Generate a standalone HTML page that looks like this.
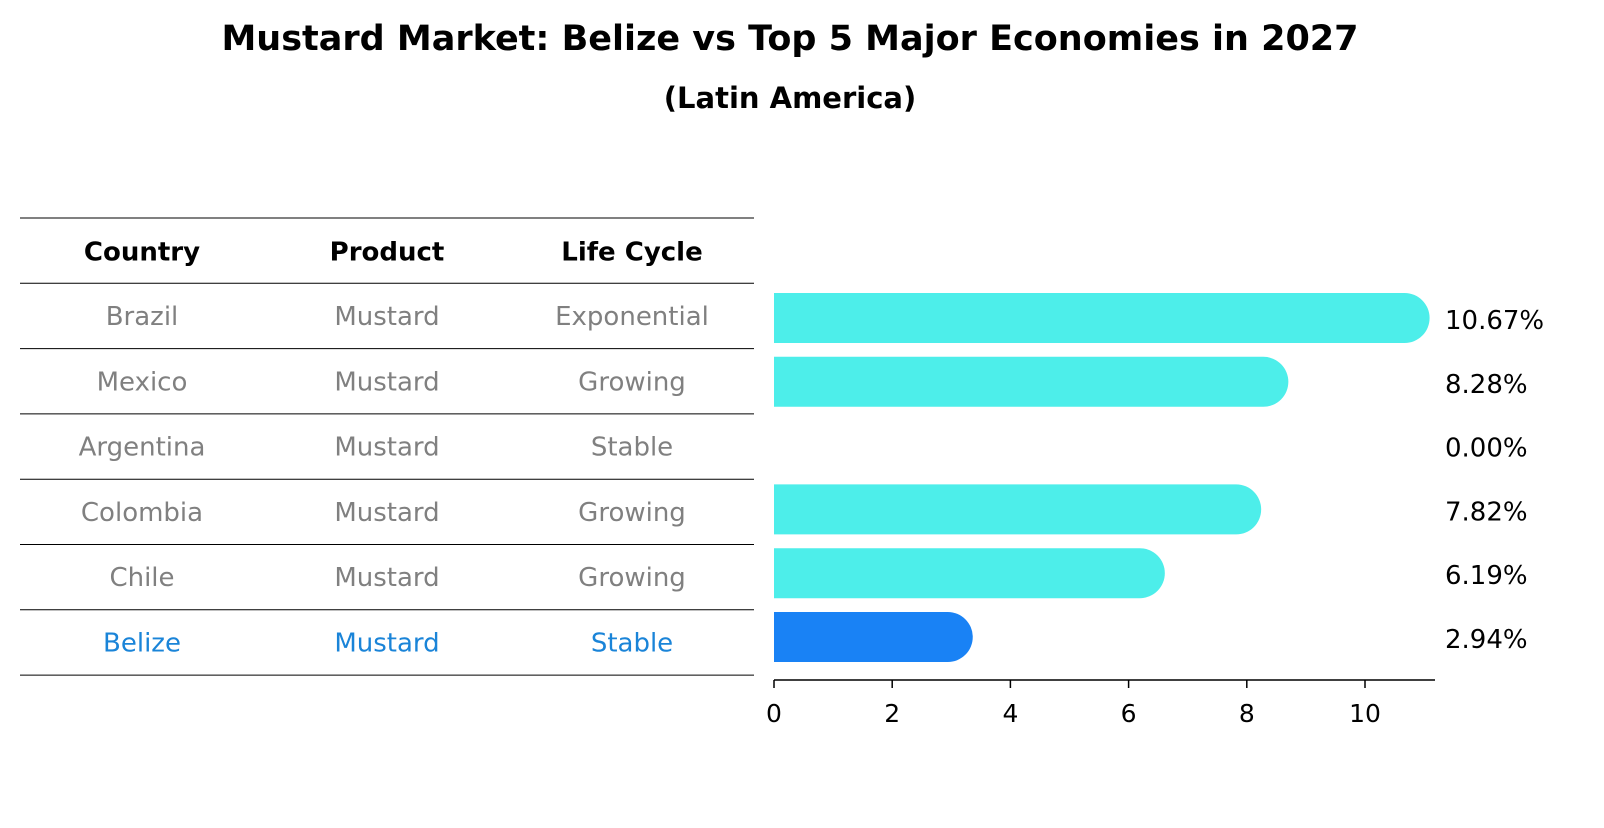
<!DOCTYPE html>
<html><head><meta charset="utf-8"><style>
body{margin:0;background:#fff;font-family:"Liberation Sans","DejaVu Sans",sans-serif;}
svg text{font-family:"DejaVu Sans","Liberation Sans",sans-serif;}
</style></head><body>
<svg id="c" width="1604" height="823" xmlns="http://www.w3.org/2000/svg">
<text x="790" y="50" text-anchor="middle" font-size="35" font-weight="bold">Mustard Market: Belize vs Top 5 Major Economies in 2027</text>
<text x="790" y="108" text-anchor="middle" font-size="29" font-weight="bold">(Latin America)</text>
<g id="table"></g>
<g id="bars"></g>
</svg>
<script>
const countries=["Brazil","Mexico","Argentina","Colombia","Chile","Belize"];
const products=["Mustard","Mustard","Mustard","Mustard","Mustard","Mustard"];
const lifecycles=["Exponential","Growing","Stable","Growing","Growing","Stable"];
const values=[10.67,8.28,0.00,7.82,6.19,2.94];
const ticks=[0,2,4,6,8,10];
const NS="http://www.w3.org/2000/svg";
function mk(tag,attrs,parent,txt){const e=document.createElementNS(NS,tag);for(const k in attrs)e.setAttribute(k,attrs[k]);if(txt!==undefined)e.textContent=txt;parent.appendChild(e);return e;}
const tbl=document.getElementById('table'),bars=document.getElementById('bars');
const rowTop=218,rowH=65.3,cols=[142,387,632];
const headers=["Country","Product","Life Cycle"];
headers.forEach((h,i)=>{const t=mk('text',{x:cols[i],y:rowTop+rowH/2+10,'text-anchor':'middle','font-size':26,'font-weight':'bold'},tbl,h);

});
for(let r=0;r<=countries.length+1;r++){const l=mk('line',{x1:20,x2:754,y1:rowTop+r*rowH,y2:rowTop+r*rowH,stroke:'#000','stroke-width':1},tbl);

}
const x0=774,sc=59.1,bh=50;
function xs(v){return x0+v*sc;}
countries.forEach((c,i)=>{const y=rowTop+(i+1)*rowH+rowH/2+9;const col=c==="Belize"?'#1a84d8':'#808080';
[c,products[i],lifecycles[i]].forEach((s,j)=>{const t=mk('text',{x:cols[j],y:y,'text-anchor':'middle','font-size':26,fill:col},tbl,s);

});
const cy=318+i*63.8;const fill=c==="Belize"?'#1982f5':'#4deeea';
if(values[i]>0){const w=xs(values[i])-x0;
const p=mk('path',{d:`M${x0},${cy-bh/2} h${w} a${bh/2},${bh/2} 0 0 1 0,${bh} h${-w} z`,fill:fill},bars);

}
const lt=mk('text',{x:1445,y:cy+11,'font-size':26},bars,values[i].toFixed(2)+'%');

});
const ax=mk('line',{x1:x0,x2:1435,y1:680,y2:680,stroke:'#000','stroke-width':1.5},bars);


ticks.forEach(t=>{const tl=mk('line',{x1:xs(t),x2:xs(t),y1:680,y2:688,stroke:'#000','stroke-width':1.5},bars);


const tt=mk('text',{x:xs(t),y:722,'text-anchor':'middle','font-size':25},bars,String(t));

});
</script>
</body></html>
